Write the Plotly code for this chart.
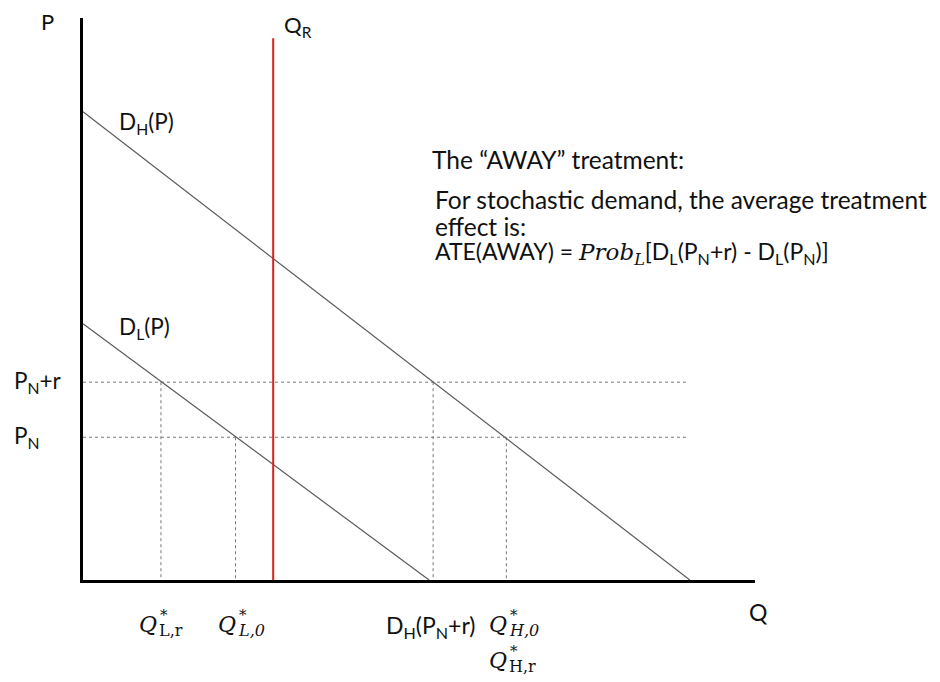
import plotly.graph_objects as go

# ---- data (diagram units: Q on x 0-100, P on y 0-100) ----
dh_q = [0, 90.3]          # high demand D_H(P)
dh_p = [83.3, 0]
dl_q = [0, 51.5]          # low demand D_L(P)
dl_p = [45.6, 0]
q_r = 28.3                # capacity Q_R
q_r_top = 96.4
p_levels = [35.2, 25.4]   # P_N+r, P_N
p_labels = ["P<sub>N</sub>+r", "P<sub>N</sub>"]
h_end = 89.9              # end of dashed price lines
q_marks = [11.6, 22.7, 52.1, 63.0]   # Q*_L,r  Q*_L,0  D_H(P_N+r)  Q*_H,0
q_mark_p = [35.2, 25.4, 35.2, 25.4]

SANS = "Lato, 'Open Sans', sans-serif"
SERIF = "'DejaVu Serif', 'Liberation Serif', serif"
GREY = "#5a5a5a"

fig = go.Figure()

for p in p_levels:
    fig.add_trace(go.Scatter(x=[0, h_end], y=[p, p], mode="lines",
                             line=dict(color="#777777", width=1, dash="3px,3px"),
                             hoverinfo="skip", showlegend=False))
for q, p in zip(q_marks, q_mark_p):
    fig.add_trace(go.Scatter(x=[q, q], y=[p, 0], mode="lines",
                             line=dict(color="#777777", width=1, dash="3px,3px"),
                             hoverinfo="skip", showlegend=False))
fig.add_trace(go.Scatter(x=dh_q, y=dh_p, mode="lines",
                         line=dict(color=GREY, width=1.2), hoverinfo="skip", showlegend=False))
fig.add_trace(go.Scatter(x=dl_q, y=dl_p, mode="lines",
                         line=dict(color=GREY, width=1.2), hoverinfo="skip", showlegend=False))
fig.add_trace(go.Scatter(x=[q_r, q_r], y=[0, q_r_top], mode="lines",
                         line=dict(color="#e0201b", width=2), hoverinfo="skip", showlegend=False))

# page body adds an 8px margin; lay out in window pixels and compensate
OFF = 8
W, H = 940 - OFF, 682 - OFF
PL, PR, PT, PB = 83, 755, 18, 580          # plot area in window pixels
L, T = PL - OFF, PT - OFF
R, B = W - (PR - OFF), H - (PB - OFF)
PW, PH = PR - PL, PB - PT


def px(xp):
    return (xp - PL) / PW


def py(yp):
    return (PB - yp) / PH


ann = []


def text(x, y, s, xanchor="left", size=23, family=SANS, xref="paper", yref="paper"):
    ann.append(dict(x=x, y=y, xref=xref, yref=yref, text=s, showarrow=False,
                    xanchor=xanchor, yanchor="middle",
                    font=dict(family=family, size=size, color="#111111")))


text(px(47), py(21), "P", xanchor="center", size=22)
text(px(282), py(26), "Q<sub>R</sub>", size=22)
text(px(117), py(123), "D<sub>H</sub>(P)", size=22.5)
text(px(117), py(328), "D<sub>L</sub>(P)", size=22.5)
for p, lab in zip(p_levels, p_labels):
    text(px(12), p, lab, yref="y", size=22.5)
text(px(758), py(612), "Q", xanchor="center")
text(px(384), py(626), "D<sub>H</sub>(P<sub>N</sub>+r)")


def qstar(xq, yc, sub, italic_sub):
    text(px(xq), py(yc), "<i>Q</i>", size=22, family=SERIF)
    text(px(xq + 21), py(yc - 9), "*", size=15, family=SERIF)
    s = "<i>%s</i>" % sub if italic_sub else sub
    text(px(xq + 20), py(yc + 6), s, size=16, family=SERIF)


qstar(137, 624, "L,r", False)
qstar(216, 624, "L,0", True)
qstar(487, 624, "H,0", True)
qstar(487, 660, "H,r", False)

BS = 24.5
text(px(430), py(160), "The \u201cAWAY\u201d treatment:", size=BS)
text(px(433), py(200), "For stochastic demand, the average treatment", size=BS)
text(px(433), py(226), "effect is:", size=BS)
text(px(433), py(253),
     "ATE(AWAY) = <span style=\"font-family:'DejaVu Serif',serif\"><i>Prob<sub>L</sub></i></span>"
     "[D<sub>L</sub>(P<sub>N</sub>+r) - D<sub>L</sub>(P<sub>N</sub>)]", size=23)

fig.update_layout(
    width=W, height=H,
    margin=dict(l=L, r=R, t=T, b=B),
    paper_bgcolor="white", plot_bgcolor="white",
    xaxis=dict(range=[0, 100], showgrid=False, zeroline=False, showticklabels=False,
               ticks="", showline=True, linecolor="black", linewidth=2.5, fixedrange=True),
    yaxis=dict(range=[0, 100], showgrid=False, zeroline=False, showticklabels=False,
               ticks="", showline=True, linecolor="black", linewidth=2.5, fixedrange=True),
    annotations=ann,
    showlegend=False,
)

fig.write_html("out.html")
